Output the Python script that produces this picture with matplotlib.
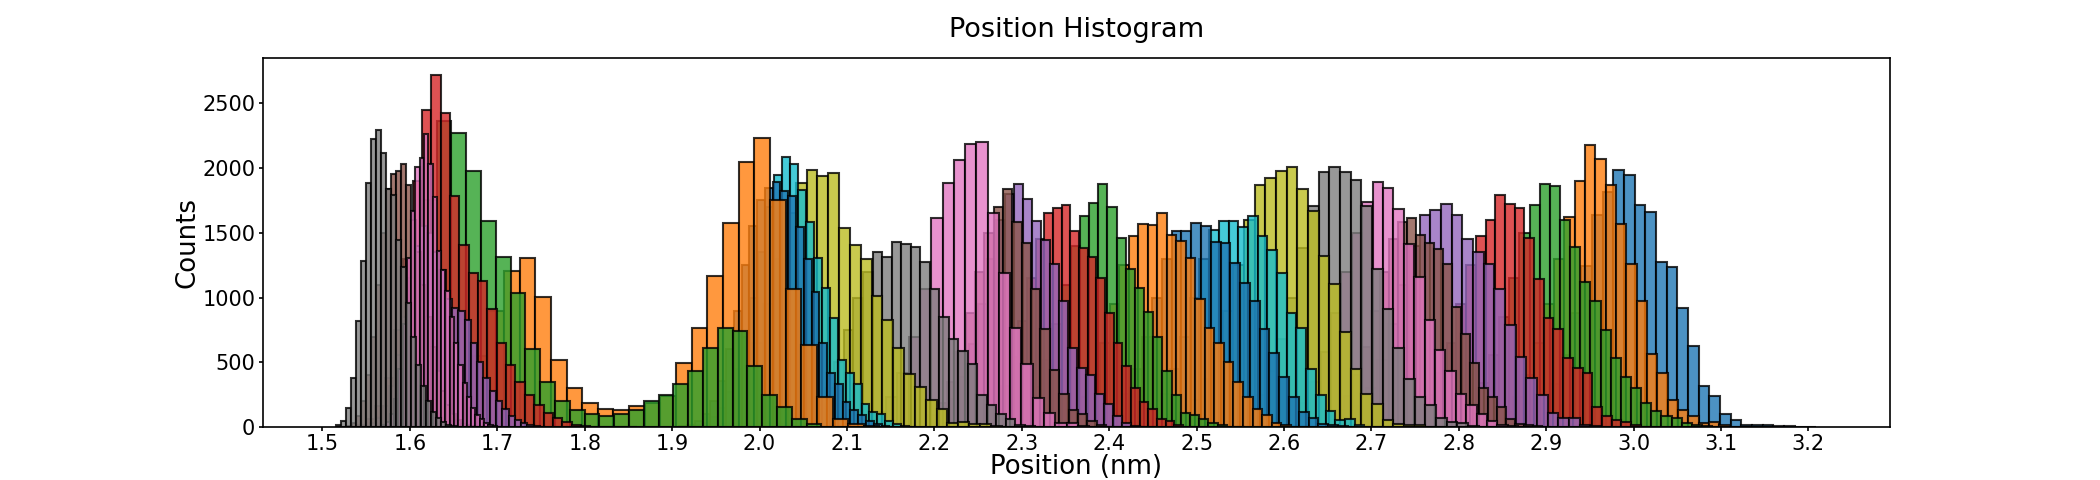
import numpy as np
import matplotlib
matplotlib.use("Agg")
import matplotlib.pyplot as plt

# one histogram per run, 30 bins each: first bin edge, bin width, counts
bin_start = [2.8427, 2.7793, 2.7534, 2.6863, 2.5966, 2.5965, 2.5228, 2.4812,
             2.4202, 2.3812, 2.3482, 2.3024, 2.2405, 2.2071, 2.1470, 2.1181,
             2.0159, 1.9985, 1.9298, 1.9074, 1.8993, 1.6181, 1.5628, 1.5389,
             1.5401, 1.5275, 1.5574, 1.5160]
bin_width = [0.0122, 0.0118, 0.0116, 0.0111, 0.0122, 0.0103, 0.0119, 0.0122,
             0.0122, 0.0111, 0.0112, 0.0109, 0.0105, 0.0099, 0.0103, 0.0107,
             0.0129, 0.0109, 0.0124, 0.0091, 0.0089, 0.0179, 0.01693, 0.0107,
             0.0072, 0.0057, 0.0049, 0.0057]
counts = [
    [5, 15, 40, 90, 180, 330, 560, 885, 1246, 1641, 1814, 1989, 1948, 1718, 1662,
     1275, 1233, 923, 624, 317, 240, 103, 57, 15, 15, 15, 10, 6, 3, 2],
    [1, 2, 5, 12, 25, 60, 120, 230, 400, 650, 950, 1300, 1620, 1899, 2180,
     2072, 1873, 1569, 1259, 975, 567, 422, 207, 134, 88, 36, 40, 15, 5, 3],
    [3, 8, 20, 45, 100, 190, 340, 560, 850, 1150, 1500, 1716, 1878, 1863, 1602,
     1393, 1117, 975, 751, 537, 387, 304, 188, 124, 83, 72, 33, 20, 8, 3],
    [1, 2, 4, 10, 25, 60, 130, 250, 420, 650, 950, 1250, 1473, 1602, 1793,
     1724, 1690, 1460, 1143, 846, 756, 534, 457, 418, 155, 90, 52, 39, 15, 5],
    [1, 1, 3, 6, 15, 35, 80, 160, 300, 520, 800, 1100, 1400, 1641, 1680,
     1724, 1638, 1452, 1349, 1259, 1066, 787, 542, 382, 248, 106, 72, 72, 20, 8],
    [1, 2, 5, 12, 30, 65, 130, 240, 400, 620, 900, 1200, 1450, 1581, 1612,
     1486, 1419, 1375, 1259, 931, 722, 498, 299, 232, 155, 60, 26, 15, 10, 5],
    [1, 1, 2, 3, 8, 20, 45, 95, 190, 350, 580, 880, 1200, 1500, 1736,
     1891, 1845, 1685, 1414, 1156, 826, 593, 433, 253, 168, 103, 46, 15, 6, 3],
    [1, 2, 4, 10, 25, 60, 130, 250, 430, 680, 1000, 1380, 1705, 1966, 2012,
     1968, 1909, 1710, 1220, 910, 614, 374, 235, 175, 72, 41, 30, 8, 3, 1],
    [2, 4, 9, 22, 50, 110, 210, 370, 600, 900, 1250, 1600, 1873, 1922, 1974,
     2007, 1840, 1672, 1323, 1104, 735, 446, 253, 180, 52, 26, 15, 20, 5, 2],
    [1, 2, 5, 12, 30, 70, 140, 260, 450, 700, 1000, 1300, 1520, 1589, 1589,
     1543, 1628, 1473, 1370, 1194, 885, 769, 446, 245, 124, 52, 67, 20, 5, 2],
    [2, 5, 12, 30, 70, 140, 260, 450, 700, 1000, 1300, 1512, 1512, 1576, 1550,
     1427, 1419, 1264, 1112, 975, 756, 575, 387, 235, 118, 72, 26, 20, 8, 3],
    [2, 4, 10, 25, 55, 120, 230, 400, 650, 950, 1250, 1473, 1569, 1564, 1651,
     1483, 1440, 1306, 988, 769, 653, 506, 351, 232, 137, 93, 33, 20, 5, 2],
    [1, 3, 7, 17, 40, 85, 170, 310, 520, 800, 1100, 1400, 1628, 1728, 1878,
     1703, 1460, 1220, 1074, 892, 699, 433, 245, 106, 93, 60, 33, 15, 5, 2],
    [1, 3, 7, 17, 40, 85, 170, 320, 540, 820, 1150, 1450, 1654, 1693, 1716,
     1512, 1380, 1310, 1148, 880, 653, 470, 300, 194, 137, 67, 50, 15, 5, 2],
    [1, 2, 4, 9, 22, 50, 110, 220, 390, 640, 950, 1300, 1600, 1800, 1878,
     1762, 1594, 1445, 1259, 975, 609, 459, 402, 253, 176, 85, 30, 12, 5, 2],
    [1, 1, 2, 3, 8, 20, 45, 95, 190, 350, 580, 880, 1200, 1500, 1703,
     1840, 1581, 1419, 1066, 756, 439, 253, 129, 103, 46, 15, 5, 2, 1, 1],
    [1, 1, 1, 1, 2, 4, 10, 25, 55, 120, 230, 420, 700, 1066, 1612,
     1886, 2064, 2188, 2200, 1654, 1190, 769, 485, 227, 106, 33, 30, 10, 4, 2],
    [1, 3, 7, 18, 40, 90, 170, 300, 500, 750, 1000, 1200, 1354, 1316, 1427,
     1414, 1388, 1277, 1066, 851, 684, 588, 485, 245, 170, 103, 60, 20, 8, 3],
    [20, 50, 110, 220, 400, 650, 950, 1300, 1650, 1883, 1989, 1940, 1963, 1535, 1406,
     1298, 1009, 826, 609, 408, 310, 209, 137, 33, 38, 28, 28, 8, 4, 2],
    [2, 6, 15, 35, 75, 150, 270, 450, 700, 1000, 1350, 1700, 1943, 2085, 2028,
     1832, 1587, 1306, 1078, 841, 516, 416, 330, 176, 116, 103, 46, 28, 8, 3],
    [3, 8, 20, 45, 100, 200, 360, 600, 900, 1250, 1550, 1750, 1850, 1891, 1821,
     1788, 1543, 1298, 1047, 653, 420, 335, 194, 129, 93, 46, 28, 8, 5, 2],
    [20, 80, 250, 550, 900, 1202, 1306, 1006, 520, 300, 190, 140, 130, 160, 190,
     240, 498, 769, 1169, 1576, 2046, 2231, 1755, 1066, 632, 232, 60, 21, 8, 3],
    [80, 300, 900, 1750, 2363, 2273, 1976, 1589, 1316, 1032, 600, 350, 200, 130, 100,
     90, 100, 130, 200, 250, 330, 433, 609, 764, 741, 472, 245, 155, 67, 21],
    [20, 60, 160, 380, 750, 1300, 1900, 2451, 2717, 2425, 1788, 1409, 1194, 1125, 916,
     650, 480, 350, 250, 170, 110, 70, 40, 20, 10, 5, 3, 2, 1, 1],
    [3, 10, 30, 70, 160, 320, 560, 850, 1150, 1400, 1550, 1500, 1349, 1213, 993,
     918, 898, 828, 650, 500, 380, 280, 200, 140, 90, 55, 30, 15, 8, 4],
    [12, 35, 90, 200, 400, 700, 1100, 1500, 1840, 1956, 1974, 2033, 1873, 1600, 1350,
     1100, 850, 620, 430, 280, 170, 100, 55, 28, 14, 7, 4, 2, 1, 1],
    [2, 5, 15, 40, 100, 220, 450, 800, 1306, 1666, 2007, 2079, 2265, 2028, 1775,
     1362, 1213, 1050, 850, 650, 480, 340, 230, 150, 95, 60, 35, 20, 10, 5],
    [15, 50, 150, 380, 820, 1285, 1886, 2224, 2296, 2116, 1837, 1790, 1447, 1238, 962,
     700, 480, 320, 200, 120, 70, 40, 20, 10, 5, 3, 2, 1, 1, 1],
]
xtick_values = np.round(np.arange(1.5, 3.25, 0.1), 1)

fig, ax = plt.subplots(figsize=(14, 3.2), dpi=150)
for i in range(len(counts)):
    c = np.array(counts[i])
    edges = bin_start[i] + bin_width[i] * np.arange(len(c) + 1)
    ax.hist(edges[:-1], bins=edges, weights=c, color="C%d" % (i % 10),
            alpha=0.8, edgecolor="black")

ax.set_xticks(xtick_values)
ax.tick_params(labelsize=10, length=2, pad=1.5)
ax.set_title("Position Histogram", fontsize=13, pad=10)
ax.set_xlabel("Position (nm)", fontsize=12.5)
ax.xaxis.set_label_coords(0.5, -0.072)
ax.set_ylabel("Counts", fontsize=12.5, labelpad=1)
plt.savefig("out.png")
